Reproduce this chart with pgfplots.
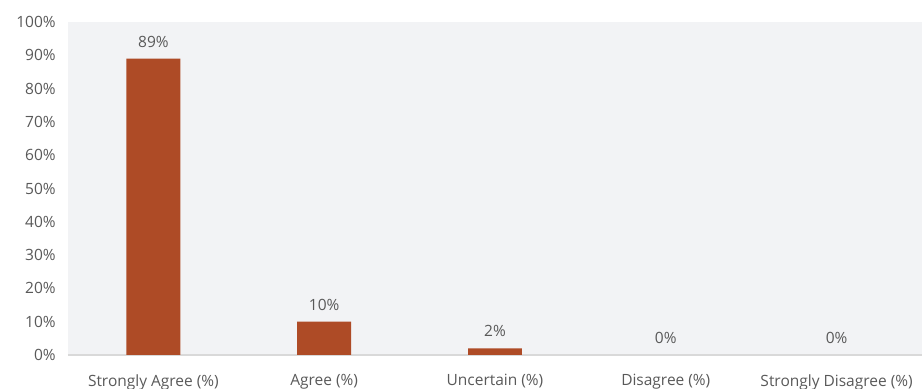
\documentclass[border=0pt]{standalone}
\usepackage{fontspec}
\setmainfont{Open Sans}
\usepackage{pgfplots}
\pgfplotsset{compat=1.18}
\usetikzlibrary{calc}
\definecolor{barc}{HTML}{AE4B26}
\definecolor{bgc}{HTML}{F2F3F5}
\definecolor{txt}{HTML}{595959}
\definecolor{axc}{HTML}{D9D9D9}
\begin{document}
\fontsize{15.5bp}{18bp}\selectfont
\begin{tikzpicture}
\begin{axis}[
  scale only axis,
  width=854bp, height=333bp,
  xmin=-0.5, xmax=4.5,
  ymin=0, ymax=100,
  axis background/.style={fill=bgc},
  axis x line=bottom, axis y line=left,
  x axis line style={draw=axc, line width=1.2bp, -},
  y axis line style={draw=none},
  major tick length=0pt,
  /pgf/number format/assume math mode=true,
  xtick=data,
  xticklabels={Strongly Agree (\%), Agree (\%), Uncertain (\%), Disagree (\%), Strongly Disagree (\%)},
  ytick={0,10,...,100},
  yticklabels={0\%,10\%,20\%,30\%,40\%,50\%,60\%,70\%,80\%,90\%,100\%},
  ticklabel style={font=\fontsize{15.5bp}{18bp}\selectfont, text=txt},
  xticklabel style={yshift=-14bp},
  yticklabel style={xshift=-7bp},
  ybar, bar width=0.316,
  nodes near coords={\pgfmathprintnumber{\pgfplotspointmeta}\%},
  nodes near coords style={font=\fontsize{15.5bp}{18bp}\selectfont, text=txt, yshift=6bp},
]
\addplot[fill=barc, draw=none] coordinates {(0,89) (1,10) (2,2) (3,0) (4,0)};
\coordinate (bl) at (rel axis cs:0,0);
\coordinate (tr) at (rel axis cs:1,1);
\end{axis}
\pgfresetboundingbox
\path ($(bl)+(-68bp,-34bp)$) rectangle ($(tr)+(0bp,22bp)$);
\end{tikzpicture}
\end{document}
